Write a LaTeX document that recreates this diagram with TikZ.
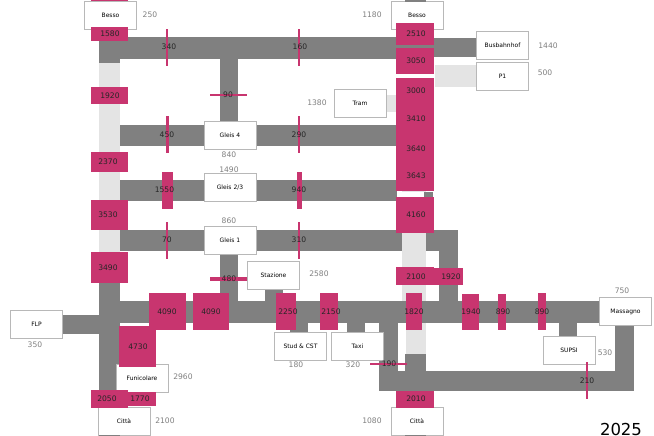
\documentclass[tikz,border=0pt]{standalone}
\usepackage{fontspec}
\setmainfont{DejaVu Sans}
\usepackage{tikz}

\definecolor{flowpink}{HTML}{C8356F}
\definecolor{flowgray}{HTML}{808080}
\definecolor{flowlight}{HTML}{E4E4E4}
\tikzset{
    stop/.style={draw=black!28, fill=white, line width=.7pt, minimum width=52pt, minimum height=28pt, inner sep=0pt, font=\fontsize{6}{7}\selectfont},
    dist/.style={text=black!50, inner sep=0pt, font=\fontsize{7.6}{9}\selectfont},
    count/.style={text=black!85, inner sep=0pt, font=\fontsize{7.6}{9}\selectfont}
}

\begin{document}
\begin{tikzpicture}[x=1pt, y=-1pt]
        \useasboundingbox (0,0) rectangle (654,436);
        \fill[white] (0,0) rectangle (654,436);
        % dark bands
        \foreach \xa/\ya/\xb/\yb in {99/37/397/59, 397/38/476/57, 99/37/120/63, 220/59/238/121,
            120/125/397/146, 120/180/397/201, 424/192/433/197, 120/230/402/251, 424/230/458/251,
            439/230/458/322, 220/251/238/301, 99/280/120/400, 63/315/99/334, 120/301/600/323,
            265/289/283/302, 290/323/308/333, 347/323/365/333, 379/323/398/391, 379/371/634/391,
            405/354/426/391, 615/325/634/391, 559/323/577/337} {
            \fill[flowgray] (\xa,\ya) rectangle (\xb,\yb);
        }
        % light bands
        \foreach \xa/\ya/\xb/\yb in {99/63/120/200, 99/230/120/252, 435/65/476/87, 387/95/396/112,
            402/76/426/192, 402/197/426/301, 406/323/426/354} {
            \fill[flowlight] (\xa,\ya) rectangle (\xb,\yb);
        }
        \fill[white] (402,75) rectangle (434,78);
        \fill[white] (402,192) rectangle (424,197);
        % stops
        \node[stop] (bessol) at (110.5,15.5) {Besso};
        \node[stop] (bessor) at (417,15.5) {Besso};
        \node[stop] (busbahnhof) at (502.5,45.5) {Busbahnhof};
        \node[stop] (pone) at (502.5,76.5) {P1};
        \node[stop] (tram) at (360,103.5) {Tram};
        \node[stop] (gleisa) at (230,135) {Gleis 4};
        \node[stop] (gleisb) at (230,187.5) {Gleis 2/3};
        \node[stop] (gleisc) at (230,240) {Gleis 1};
        \node[stop] (stazione) at (273.5,275) {Stazione};
        \node[stop] (flp) at (36.5,324) {FLP};
        \node[stop] (stud) at (300.5,346) {Stud \& CST};
        \node[stop] (taxi) at (357.5,346) {Taxi};
        \node[stop] (funicolare) at (142,378) {Funicolare};
        \node[stop] (cittal) at (124,421) {Città};
        \node[stop] (cittar) at (417,421) {Città};
        \node[stop] (supsi) at (569,350) {SUPSI};
        \node[stop] (massagno) at (625.5,311.5) {Massagno};
        \foreach \xa/\ya/\xb/\yb in {99/435/120/436, 405/435/426/436, 405/0/426/2} {
            \fill[flowgray] (\xa,\ya) rectangle (\xb,\yb);
        }
        % distances
        \foreach \x/\y/\val in {150/15/250, 372/15/1180, 548/46/1440, 545/73/500, 317/103/1380,
            229/155/840, 229/170/1490, 229/221/860, 319/274/2580, 35/345/350, 296/365/180,
            353/365/320, 183/377/2960, 165/421/2100, 372/421/1080, 605/353/530, 622/291/750} {
            \node[dist] (d\val) at (\x,\y) {\val};
        }
        % counts
        \fill[flowpink] (91,0) rectangle (128,1.5);
        \foreach \xa/\ya/\xb/\yb/\lx/\ly/\val in {91/27/128/41/110/34/1580, 91/87/128/104/110/96/1920,
            91/152/128/172/108/162/2370, 91/200/128/230/108/215/3530, 91/252/128/283/108/268/3490,
            166.1/29/168/66/169/47/340, 297.8/29/299.5/66/300/47/160, 210/94/247/95.6/228/95/90,
            165.5/116/168.5/153/167/135/450, 297.5/116/300/153/299/135/290, 162/172/173/209/164.5/190/1550,
            296.5/172/302/209/299/190/940, 166.1/222/168/259/167/240/70, 297.5/222/300/259/299/240/310,
            210/277/247/281/229/279/480, 149/293/186/330/167/312/4090, 193/293/229/330/211/312/4090,
            276/293/296/330/288/312/2250, 320/293/338/330/331/312/2150, 406/293/422/330/414/312/1820,
            462/294/479/330/471/312/1940, 498/294/506/330/503/312/890, 538/293/546/330/542/312/890,
            119/326/156/367/138/347/4730, 91/390/128/408/107/399/2050, 128/392/156/406/140/399/1770,
            396/23/434/45/416/34/2510, 396/48/434/74/416/61/3050, 396/197/434/233/416/215/4160,
            396/267/434/285/416/277/2100, 434/268/463/285/451/277/1920, 396/391/434/408/416/399/2010,
            370/363.3/407/364.9/389/364/190, 586/362/587.7/399/587/381/210} {
            \fill[flowpink] (\xa,\ya) rectangle (\xb,\yb);
            \node[count] (c\val) at (\lx,\ly) {\val};
        }
        \fill[flowpink] (396,78) rectangle (434,191);
        \foreach \ly/\val in {91/3000, 119/3410, 149/3640, 176/3643} {
            \node[count] (c\val) at (416,\ly) {\val};
        }
        \node[anchor=base, inner sep=0pt, font=\fontsize{16.5}{19}\selectfont] (year) at (621,435.5) {2025};
    \end{tikzpicture}
\end{document}
